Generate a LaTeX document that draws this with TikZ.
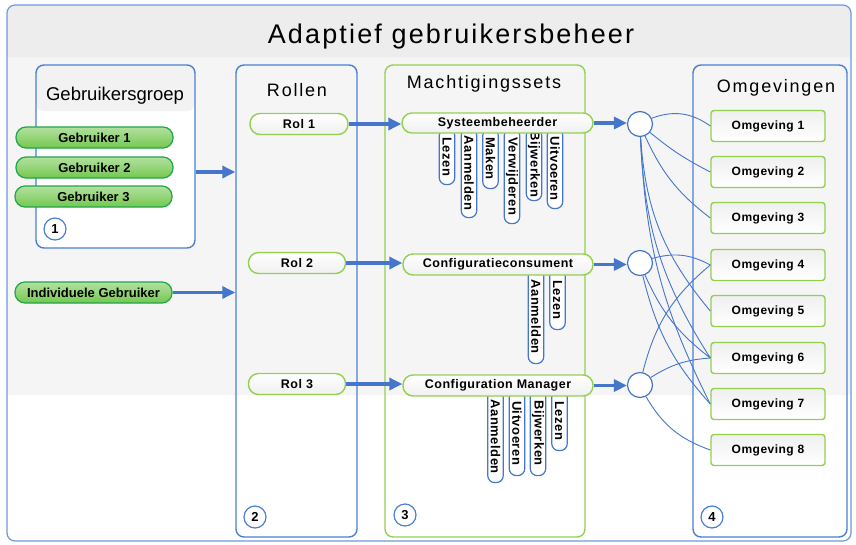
\documentclass[tikz,border=0pt]{standalone}
\usepackage{fontspec}
\setmainfont{Liberation Sans}
\newfontfamily\widefont[LetterSpace=10]{Liberation Sans}
\newfontfamily\titlefont[LetterSpace=8]{Liberation Sans}
\newfontfamily\semiwide[LetterSpace=4]{Liberation Sans}
\usetikzlibrary{arrows.meta,positioning,calc}

\definecolor{frameblue}{HTML}{4A7FD4}
\definecolor{lineblue}{HTML}{4576CC}
\definecolor{setgreen}{HTML}{92D050}
\definecolor{darkgreen}{HTML}{1FA64A}
\definecolor{pillgreen}{HTML}{74C850}

\begin{document}
\begin{tikzpicture}[
    x=1pt, y=-1pt,
    panel/.style={draw=frameblue, line width=1.4pt, rounded corners=8pt, inner sep=0pt},
    setpanel/.style={panel, draw=setgreen},
    heading/.style={inner sep=0pt, font=\widefont\fontsize{18}{20}\selectfont},
    userpill/.style={draw=darkgreen, line width=1.2pt, top color=pillgreen!55, bottom color=pillgreen,
        rounded corners=10pt, minimum width=157pt, minimum height=21pt, inner sep=0pt,
        font=\bfseries\fontsize{13}{14}\selectfont},
    rolepill/.style={draw=setgreen, line width=1.4pt, top color=white, bottom color=black!6,
        rounded corners=10pt, minimum height=21pt, inner sep=0pt,
        font=\semiwide\bfseries\fontsize{12.5}{14}\selectfont},
    tab/.style={draw=lineblue, line width=1.2pt, fill=white, rounded corners=7pt, rotate=-90,
        anchor=west, minimum height=15.5pt, inner sep=0pt,
        font=\semiwide\bfseries\fontsize{13}{14}\selectfont},
    hub/.style={circle, draw=lineblue, line width=1.2pt, fill=white, minimum size=25pt, inner sep=0pt},
    envbox/.style={draw=setgreen, line width=1.4pt, rounded corners=3pt, top color=black!6,
        bottom color=white, minimum width=114pt, minimum height=31pt, inner sep=0pt,
        font=\semiwide\bfseries\fontsize{12}{14}\selectfont},
    stepnum/.style={circle, draw=frameblue, line width=1.2pt, fill=white, minimum size=22pt,
        inner sep=0pt, font=\bfseries\fontsize{13}{14}\selectfont},
    bigarrow/.style={draw=lineblue, line width=3.4pt, -{Triangle[length=13pt,width=12pt]}},
    link/.style={draw=lineblue, line width=0.9pt}
]
    \useasboundingbox (0,0) rectangle (856,544);

    % Achtergrond
    \draw[frameblue!80, line width=1.2pt, rounded corners=8pt, fill=white,
        path picture={\fill[black!4] (0,0) rectangle (856,395);
                      \fill[black!7] (0,0) rectangle (856,57);}]
        (7,5) rectangle (851,541);
    \node[inner sep=0pt, font=\titlefont\fontsize{27}{30}\selectfont] (title) at (451,37) {Adaptief gebruikersbeheer};

    % Kolommen
    \node[panel, fill=white, minimum width=159pt, minimum height=183pt,
        path picture={\fill[black!5] (path picture bounding box.north west)
            rectangle ([yshift=-46pt]path picture bounding box.north east);}]
        (grpbox) at (115.5,156.5) {};
    \node[panel, minimum width=121pt, minimum height=472pt] (rolbox) at (296.5,301) {};
    \node[setpanel, minimum width=200pt, minimum height=472pt] (machbox) at (485,301) {};
    \node[panel, minimum width=154pt, minimum height=472pt] (omgbox) at (770,301) {};

    \node[inner sep=0pt, font=\fontsize{18.5}{20}\selectfont] (grphead) at (115,96) {Gebruikersgroep};
    \node[heading] (rolhead) at (297,90) {Rollen};
    \node[heading] (machhead) at (484,84) {Machtigingssets};
    \node[heading] (omghead) at (776,88) {Omgevingen};

    \node[stepnum] (n1) at (55,229) {1};
    \node[stepnum] (n2) at (255,517) {2};
    \node[stepnum] (n3) at (405,515) {3};
    \node[stepnum] (n4) at (712,517) {4};

    % Gebruikers
    \node[userpill] (g1) at (94.5,137.5) {Gebruiker 1};
    \node[userpill] (g2) at (94.5,167.5) {Gebruiker 2};
    \node[userpill] (g3) at (93.5,196.5) {Gebruiker 3};
    \node[userpill] (indiv) at (93.5,292.5) {Individuele Gebruiker};

    % Rollen
    \node[rolepill, minimum width=98pt] (rol1) at (299,124) {Rol 1};
    \node[rolepill, minimum width=97pt] (rol2) at (297,263) {Rol 2};
    \node[rolepill, minimum width=97pt] (rol3) at (297,384) {Rol 3};

    % Rechten onder de sets
    \node[tab, minimum width=56pt] (sysLezen) at (447,128) {Lezen};
    \node[tab, minimum width=89pt] (sysAanmelden) at (469,128) {Aanmelden};
    \node[tab, minimum width=60pt] (sysMaken) at (490.5,128) {Maken};
    \node[tab, minimum width=95pt] (sysVerwijderen) at (512,128) {Verwijderen};
    \node[tab, minimum width=72pt] (sysBijwerken) at (534,128) {Bijwerken};
    \node[tab, minimum width=80pt] (sysUitvoeren) at (555,128) {Uitvoeren};

    \node[tab, minimum width=94pt] (consAanmelden) at (536,269) {Aanmelden};
    \node[tab, minimum width=60pt] (consLezen) at (557.5,269) {Lezen};

    \node[tab, minimum width=92pt] (manAanmelden) at (495.5,390) {Aanmelden};
    \node[tab, minimum width=85pt] (manUitvoeren) at (517,390) {Uitvoeren};
    \node[tab, minimum width=85pt] (manBijwerken) at (538,390) {Bijwerken};
    \node[tab, minimum width=60pt] (manLezen) at (559.5,390) {Lezen};

    % Machtigingssets
    \node[rolepill, minimum width=191pt, minimum height=20pt] (sys) at (497.5,123) {Systeembeheerder};
    \node[rolepill, minimum width=190pt] (cons) at (498,264.5) {Configuratieconsument};
    \node[rolepill, minimum width=190pt] (man) at (498,385.5) {Configuration Manager};

    \node[hub] (c1) at (640,124) {};
    \node[hub] (c2) at (640,263) {};
    \node[hub] (c3) at (640,385) {};

    % Omgevingen
    \foreach \i/\y in {1/126, 2/172, 3/218, 4/265, 5/311, 6/358, 7/404, 8/450}
        \node[envbox] (o\i) at (768,\y) {Omgeving \i};

    % Koppelingen naar omgevingen
    \foreach \h/\e/\a in {c1/o1/28, c1/o2/-6, c1/o3/-14, c1/o5/-18, c1/o6/-15, c1/o7/-12,
                          c2/o4/22, c2/o6/-14, c2/o7/-14,
                          c3/o4/18, c3/o6/14, c3/o8/-20}
        \draw[link] (\h) to[bend left=\a] (\e.west);

    % Pijlen
    \coordinate (grpout) at ([yshift=-15.5pt]grpbox.east);
    \draw[bigarrow] (grpout) -- (grpout -| rolbox.west);
    \draw[bigarrow] (indiv.east) -- (indiv.east -| rolbox.west);
    \draw[bigarrow] (rol1.east) -- (rol1.east -| sys.west);
    \draw[bigarrow] (rol2.east) -- (rol2.east -| cons.west);
    \draw[bigarrow] (rol3.east) -- (rol3.east -| man.west);
    \draw[bigarrow] (sys.east) -- (sys.east -| c1.west);
    \draw[bigarrow] (cons.east) -- (cons.east -| c2.west);
    \draw[bigarrow] (man.east) -- (man.east -| c3.west);
\end{tikzpicture}
\end{document}
